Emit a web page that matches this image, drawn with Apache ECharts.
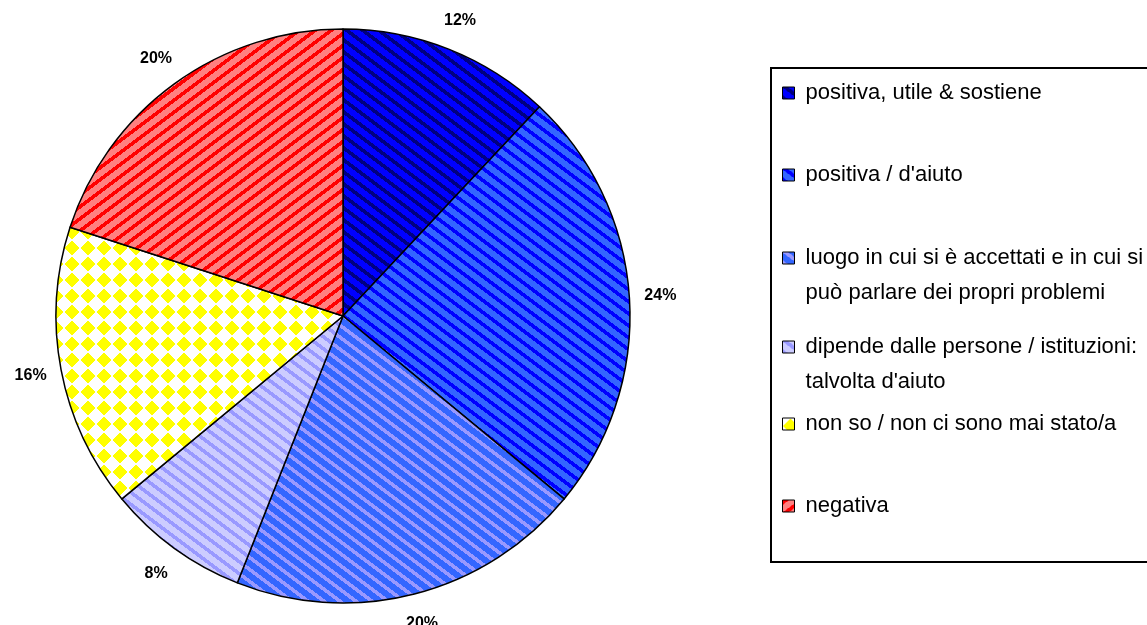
<!DOCTYPE html>
<html>
<head>
<meta charset="utf-8">
<script src="https://cdn.jsdelivr.net/npm/echarts@6/dist/echarts.min.js"></script>
<style>
  html, body { margin: 0; padding: 0; background: #fff; }
  #main { width: 1147px; height: 625px; }
</style>
</head>
<body>
<div id="main"></div>
<script>
var categories = [
  'positiva, utile & sostiene',
  "positiva / d'aiuto",
  'luogo in cui si è accettati e in cui si può parlare dei propri problemi',
  "dipende dalle persone / istituzioni: talvolta d'aiuto",
  'non so / non ci sono mai stato/a',
  'negativa'
];
var values = [12, 24, 20, 8, 16, 20];
var legendLines = [
  ['positiva, utile & sostiene'],
  ["positiva / d'aiuto"],
  ['luogo in cui si è accettati e in cui si', 'può parlare dei propri problemi'],
  ['dipende dalle persone / istituzioni:', "talvolta d'aiuto"],
  ['non so / non ci sono mai stato/a'],
  ['negativa']
];

// pixel tiles that mimic the old excel fill patterns
function stripes(base, line, dir) {
  var W = 16, H = 12;
  var c = document.createElement('canvas');
  c.width = W; c.height = H;
  var ctx = c.getContext('2d');
  ctx.fillStyle = base;
  ctx.fillRect(0, 0, W, H);
  ctx.fillStyle = line;
  for (var y = 0; y < H; y++) {
    for (var x = 0; x < W; x++) {
      var s = dir > 0 ? x - Math.round(y * W / H) : x + Math.round(y * W / H);
      var m = ((s % W) + W) % W;
      if (m < 6) ctx.fillRect(x, y, 1, 1);
    }
  }
  return c;
}

function diamonds(base, dot) {
  var S = 16;
  var c = document.createElement('canvas');
  c.width = S; c.height = S;
  var ctx = c.getContext('2d');
  ctx.fillStyle = base;
  ctx.fillRect(0, 0, S, S);
  ctx.fillStyle = dot;
  for (var y = 0; y < S; y++) {
    for (var x = 0; x < S; x++) {
      if (Math.abs(x - 7.5) + Math.abs(y - 7.5) <= 7) ctx.fillRect(x, y, 1, 1);
    }
  }
  return c;
}

var tiles = [
  stripes('#0000ff', '#000080', 1),
  stripes('#3366ff', '#0000ff', 1),
  stripes('#3366ff', '#9999ff', 1),
  stripes('#ccccff', '#9999ff', 1),
  diamonds('#ffffff', '#ffff00'),
  stripes('#ff8080', '#ff0000', -1)
];

var chartDom = document.getElementById('main');
var myChart = echarts.init(chartDom);

var pieData = categories.map(function (name, i) {
  return {
    name: name,
    value: values[i],
    itemStyle: { color: { image: tiles[i], repeat: 'repeat' } }
  };
});

var labelData = categories.map(function (name, i) {
  return { name: name, value: values[i] };
});

// one legend per entry so the rows sit like the original box;
// blank lines on top keep the icon level with the first text line
var rowCenters = [93, 175, 258, 347, 424, 506];
var LH = 35;
var legends = categories.map(function (name, i) {
  var lines = legendLines[i].map(function (l) { return ' ' + l; });
  var blanks = [];
  for (var k = 1; k < lines.length; k++) blanks.push('\u00a0');
  var txt = blanks.concat(lines).join('\n');
  var boxH = (blanks.length + lines.length) * LH;
  return {
    data: [name],
    orient: 'vertical',
    left: 782,
    top: rowCenters[i] - boxH / 2,
    padding: 0,
    itemWidth: 12,
    itemHeight: 12,
    itemGap: 0,
    itemStyle: { borderColor: '#000', borderWidth: 1 },
    icon: 'rect',
    selectedMode: false,
    formatter: function () { return txt; },
    textStyle: {
      fontFamily: 'Liberation Sans',
      fontSize: 22,
      color: '#000',
      lineHeight: LH
    }
  };
});

var option = {
  animation: false,
  backgroundColor: '#fff',
  legend: legends,
  graphic: [{
    type: 'rect',
    shape: { x: 771, y: 68, width: 420, height: 494 },
    style: { fill: null, stroke: '#000', lineWidth: 2 },
    z: -1
  }],
  series: [
    {
      type: 'pie',
      center: [343, 316],
      radius: 287,
      startAngle: 90,
      clockwise: true,
      avoidLabelOverlap: false,
      label: { show: false },
      labelLine: { show: false },
      emphasis: { disabled: true },
      itemStyle: { borderColor: '#000', borderWidth: 1.5 },
      data: pieData
    },
    {
      type: 'pie',
      center: [343, 316],
      radius: [298, 332],
      startAngle: 90,
      clockwise: true,
      silent: true,
      avoidLabelOverlap: false,
      itemStyle: { color: 'rgba(0,0,0,0)', borderWidth: 0 },
      label: {
        show: true,
        position: 'inside',
        rotate: 0,
        formatter: '{c}%',
        fontFamily: 'Liberation Sans',
        fontWeight: 'bold',
        fontSize: 16,
        color: '#000'
      },
      labelLine: { show: false },
      emphasis: { disabled: true },
      data: labelData
    }
  ]
};

option && myChart.setOption(option);
window.addEventListener('resize', function () { myChart.resize(); });
</script>
</body>
</html>
